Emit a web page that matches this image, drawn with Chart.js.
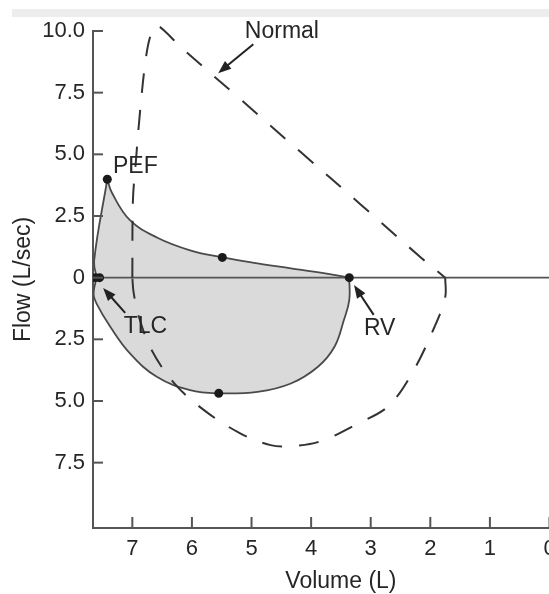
<!DOCTYPE html>
<html>
<head>
<meta charset="utf-8">
<script src="https://cdn.jsdelivr.net/npm/chart.js@4.4.1/dist/chart.umd.min.js"></script>
<style>
  html, body { margin: 0; padding: 0; background: #fff; overflow: hidden; }
  #band { position: absolute; left: 12px; right: 0; top: 9px; height: 8px; background: #ededed; }
  #wrap { position: absolute; left: 0; top: 0; width: 554px; height: 594px; }
</style>
</head>
<body>
<div id="band"></div>
<div id="wrap"><canvas id="chart"></canvas></div>
<script>
// axes
const volumeMin = 0, volumeMax = 7.66;
const flowMin = -10.15, flowMax = 10;
const volumeTicks = [0, 1, 2, 3, 4, 5, 6, 7];
const flowTicks = [10, 7.5, 5, 2.5, 0, -2.5, -5, -7.5];
const flowTickLabels = ['10.0', '7.5', '5.0', '2.5', '0', '2.5', '5.0', '7.5'];

// patient loop, three branches: TLC -> PEF, PEF -> RV, RV -> TLC
const riseVolume  = [7.60, 7.64, 7.42];
const riseFlow    = [0,    0.71, 3.99];
const decayVolume = [7.42, 7.34, 7.04, 6.58, 6.03, 5.49, 4.90, 4.34, 3.79, 3.36];
const decayFlow   = [3.99, 3.43, 2.33, 1.62, 1.11, 0.82, 0.58, 0.38, 0.18, 0];
const insVolume   = [3.36, 3.36, 3.45, 3.61, 3.89, 4.34, 4.90, 5.55, 6.03, 6.59, 7.04, 7.37, 7.60, 7.65, 7.60];
const insFlow     = [0,   -0.91, -1.72, -2.81, -3.62, -4.29, -4.63, -4.69, -4.56, -4.02, -3.07, -1.99, -1.05, -0.64, 0];

// normal loop (dashed)
const normExpVolume = [7.0, 6.99, 6.94, 6.87, 6.78, 6.70, 6.60, 6.45, 6.20, 5.19, 4.18, 3.16, 2.15, 1.75];
const normExpFlow   = [0,   3.13, 4.74, 6.75, 8.77, 9.78, 10.22, 9.98, 9.38, 7.24, 5.10, 2.95, 0.80, 0];
const normInsVolume = [1.75, 1.75, 1.93, 2.30, 2.70, 3.20, 3.84, 4.34, 4.68, 5.19, 5.77, 6.28, 6.68, 6.90, 6.98, 7.0];
const normInsFlow   = [0, -0.79, -2.0, -3.85, -5.2, -5.90, -6.63, -6.83, -6.79, -6.31, -5.42, -4.33, -2.92, -1.51, -0.58, 0];

// dots: TLC (two overlapping), PEF, mid-expiration, RV, mid-inspiration
const markerVolume = [7.62, 7.55, 7.42, 5.49, 3.36, 5.55];
const markerFlow   = [0,    0,    3.99, 0.82, 0,    -4.69];

// annotations
const labelTexts  = ['Normal', 'PEF', 'TLC', 'RV'];
const labelVolume = [4.49, 6.95, 6.78, 2.85];
const labelFlow   = [9.98, 4.5, -2.0, -2.08];
const arrowFromVolume = [4.97, 7.12, 2.95];
const arrowFromFlow   = [9.46, -1.43, -1.51];
const arrowToVolume   = [5.56, 7.49, 3.28];
const arrowToFlow     = [8.29, -0.42, -0.30];
const xTitle = 'Volume (L)';
const yTitle = 'Flow (L/sec)';

const FONT = '"Liberation Sans", Arial, Helvetica, sans-serif';
Chart.defaults.font.family = FONT;
Chart.defaults.color = '#262626';

function toPoints(xs, ys) {
  return xs.map((x, i) => ({ x, y: ys[i] }));
}

function drawArrow(ctx, x1, y1, x2, y2) {
  const a = Math.atan2(y2 - y1, x2 - x1);
  const c = Math.cos(a), s = Math.sin(a);
  ctx.beginPath();
  ctx.moveTo(x1, y1);
  ctx.lineTo(x2 - 8 * c, y2 - 8 * s);
  ctx.stroke();
  ctx.beginPath();
  ctx.moveTo(x2, y2);
  ctx.lineTo(x2 - 13 * c + 5 * s, y2 - 13 * s - 5 * c);
  ctx.lineTo(x2 - 13 * c - 5 * s, y2 - 13 * s + 5 * c);
  ctx.closePath();
  ctx.fill();
}

const overlay = {
  id: 'overlay',
  afterDraw(chart) {
    const { ctx, scales: { x, y } } = chart;
    ctx.save();
    // inward tick marks
    ctx.strokeStyle = '#555';
    ctx.lineWidth = 2;
    y.ticks.forEach(t => {
      const py = y.getPixelForValue(t.value);
      ctx.beginPath();
      ctx.moveTo(x.left, py);
      ctx.lineTo(x.left + 10, py);
      ctx.stroke();
    });
    x.ticks.forEach(t => {
      const px = x.getPixelForValue(t.value);
      ctx.beginPath();
      ctx.moveTo(px, y.bottom);
      ctx.lineTo(px, y.bottom - 11);
      ctx.stroke();
    });
    // text labels
    ctx.fillStyle = '#262626';
    ctx.font = '23px ' + FONT;
    ctx.textAlign = 'center';
    ctx.textBaseline = 'middle';
    labelTexts.forEach((t, i) => {
      ctx.fillText(t, x.getPixelForValue(labelVolume[i]), y.getPixelForValue(labelFlow[i]));
    });
    ctx.fillText(xTitle, x.getPixelForValue(3.5), chart.height - 12);
    // arrows
    ctx.strokeStyle = '#222';
    ctx.fillStyle = '#222';
    ctx.lineWidth = 2;
    arrowFromVolume.forEach((v, i) => {
      drawArrow(ctx,
        x.getPixelForValue(v), y.getPixelForValue(arrowFromFlow[i]),
        x.getPixelForValue(arrowToVolume[i]), y.getPixelForValue(arrowToFlow[i]));
    });
    ctx.restore();
  }
};

const dashed = [20, 17];
const loopVolume = riseVolume.concat(decayVolume, insVolume);
const loopFlow = riseFlow.concat(decayFlow, insFlow);

new Chart(document.getElementById('chart'), {
  type: 'scatter',
  data: {
    datasets: [
      {
        data: toPoints(loopVolume, loopFlow),
        showLine: true,
        fill: 'shape',
        backgroundColor: '#dadada',
        borderColor: '#4a4a4a',
        borderWidth: 1.8,
        tension: 0.4,
        pointRadius: 0,
        order: 5
      },
      {
        data: [{ x: volumeMax, y: 0 }, { x: volumeMin, y: 0 }],
        showLine: true,
        borderColor: '#555',
        borderWidth: 1.8,
        pointRadius: 0,
        clip: false,
        order: 4
      },
      {
        data: toPoints(normExpVolume, normExpFlow),
        showLine: true,
        borderColor: '#333',
        borderWidth: 2,
        borderDash: dashed,
        tension: 0.35,
        pointRadius: 0,
        clip: false,
        order: 3
      },
      {
        data: toPoints(normInsVolume, normInsFlow),
        showLine: true,
        borderColor: '#333',
        borderWidth: 2,
        borderDash: dashed,
        tension: 0.35,
        pointRadius: 0,
        order: 3
      },
      {
        data: toPoints(markerVolume, markerFlow),
        showLine: false,
        pointRadius: 4.5,
        pointBackgroundColor: '#1a1a1a',
        pointBorderWidth: 0,
        order: 1
      }
    ]
  },
  options: {
    responsive: true,
    maintainAspectRatio: false,
    animation: false,
    events: [],
    layout: { padding: { top: 31, right: 0, bottom: 0, left: 0 } },
    plugins: {
      legend: { display: false },
      tooltip: { enabled: false }
    },
    scales: {
      x: {
        type: 'linear',
        reverse: true,
        min: volumeMin,
        max: volumeMax,
        afterBuildTicks: s => { s.ticks = volumeTicks.map(v => ({ value: v })); },
        afterFit: s => { s.height = 66; },
        grid: { display: false, drawTicks: false },
        border: { display: true, color: '#555', width: 2 },
        ticks: { font: { size: 22 }, color: '#262626', padding: 8, maxRotation: 0, autoSkip: false }
      },
      y: {
        min: flowMin,
        max: flowMax,
        afterBuildTicks: s => { s.ticks = flowTicks.map(v => ({ value: v })); },
        afterFit: s => { s.width = 93; },
        grid: { display: false, drawTicks: false },
        border: { display: true, color: '#555', width: 2 },
        ticks: {
          font: { size: 22 },
          color: '#262626',
          padding: 8,
          autoSkip: false,
          callback: v => flowTickLabels[flowTicks.indexOf(v)]
        },
        title: {
          display: true,
          text: yTitle,
          font: { size: 23 },
          color: '#262626',
          padding: { top: 10, bottom: 0 }
        }
      }
    }
  },
  plugins: [overlay]
});
</script>
</body>
</html>
